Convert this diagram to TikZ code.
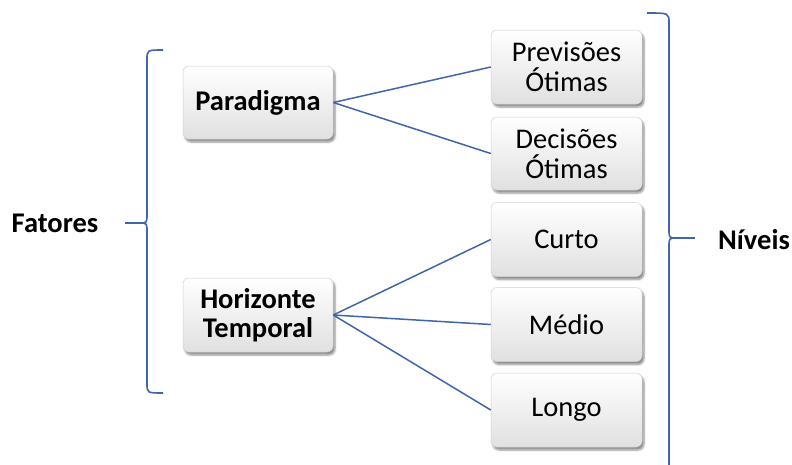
\documentclass[tikz,border=0pt]{standalone}
\usepackage{fontspec}
\setmainfont{Carlito}
\usetikzlibrary{shadows.blur}
\definecolor{linkblue}{RGB}{66,100,170}
\begin{document}
\begin{tikzpicture}[x=1pt,y=-1pt,
  box/.style={rounded corners=6pt, draw=black!18, line width=0.5pt,
    top color=white, bottom color=black!12,
    blur shadow={shadow xshift=2pt, shadow yshift=-3pt, shadow blur steps=6, shadow opacity=45},
    minimum width=150pt, minimum height=73pt, inner sep=0pt, align=center,
    font=\fontsize{28.5}{30}\selectfont},
  bbox/.style={box, font=\fontsize{28.5}{29}\selectfont\bfseries},
  lbl/.style={font=\fontsize{28.5}{30}\selectfont\bfseries, inner sep=0pt},
  link/.style={draw=linkblue, line width=1.5pt},
  brace/.style={draw=linkblue, line width=1.6pt}]
\useasboundingbox (0,0) rectangle (792,464);

\node[bbox] (par) at (258,102.5) {Paradigma};
\node[bbox, minimum height=74pt] (hor) at (258,315) {Horizonte\\Temporal};

\node[box, minimum width=151pt, minimum height=74pt] (prev) at (566.5,67) {Previsões\\Ótimas};
\node[box, minimum width=151pt, minimum height=73pt] (dec) at (566.5,153.5) {Decisões\\Ótimas};
\node[box, minimum width=151pt, minimum height=74pt] (curto) at (566.5,239.5) {Curto};
\node[box, minimum width=151pt, minimum height=74pt] (medio) at (566.5,324.5) {Médio};
\node[box, minimum width=151pt, minimum height=74pt] (longo) at (566.5,410) {Longo};

\node[lbl] (fat) at (55,223) {Fatores};
\node[lbl] (niv) at (754,240) {Níveis};

\draw[link] (par.east) -- (prev.west);
\draw[link] (par.east) -- (dec.west);
\draw[link] (hor.east) -- (curto.west);
\draw[link] (hor.east) -- (medio.west);
\draw[link] (hor.east) -- (longo.west);

% left brace
\coordinate (lcusp) at (139,223);
\draw[brace] (163,50) .. controls (147,50) .. (147,60) -- (147,214)
  .. controls (147,223) .. (lcusp) .. controls (147,223) .. (147,232) -- (147,383)
  .. controls (147,393) .. (163,393);
\draw[brace] (lcusp) -- (125,223);

% right brace
\coordinate (rcusp) at (677,238);
\draw[brace] (647,13) .. controls (669,13) .. (669,23) -- (669,229)
  .. controls (669,238) .. (rcusp) .. controls (669,238) .. (669,247) -- (669,470);
\draw[brace] (rcusp) -- (695,238);
\end{tikzpicture}
\end{document}
